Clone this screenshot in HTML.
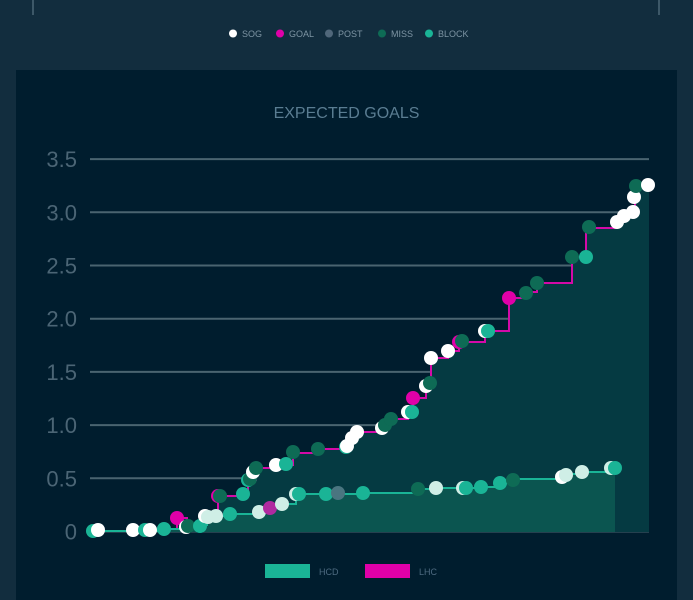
<!DOCTYPE html>
<html><head><meta charset="utf-8"><style>
html,body{margin:0;padding:0;background:#122d3e;width:693px;height:600px;overflow:hidden;font-family:"Liberation Sans",sans-serif}
</style></head><body>
<svg id="s" width="693" height="600" xmlns="http://www.w3.org/2000/svg" style="position:absolute;left:0;top:0">
<rect width="693" height="600" fill="#122d3e"/>
<line x1="33" y1="0" x2="33" y2="15" stroke="#3d5868" stroke-width="2"/>
<line x1="659" y1="0" x2="659" y2="15" stroke="#3d5868" stroke-width="2"/>
<g font-size="9" fill="#7d94a3">
<circle cx="233" cy="33.5" r="4" fill="#ffffff"/><text x="242" y="37">SOG</text>
<circle cx="280" cy="33.5" r="4" fill="#e000a8"/><text x="289" y="37">GOAL</text>
<circle cx="329" cy="33.5" r="4" fill="#50677a"/><text x="338" y="37">POST</text>
<circle cx="382" cy="33.5" r="4" fill="#0e6b55"/><text x="391" y="37">MISS</text>
<circle cx="429" cy="33.5" r="4" fill="#1ab496"/><text x="438" y="37">BLOCK</text>
</g>
<rect x="16" y="70" width="661" height="530" fill="#001d2e"/>
<text x="346.5" y="118" font-size="16" fill="#5a7d92" text-anchor="middle">EXPECTED GOALS</text>
<g id="grid"></g>
<g id="plot"></g>
<rect x="265" y="564" width="45" height="14" fill="#1ab496"/>
<text x="319" y="575" font-size="9" fill="#4d6a80">HCD</text>
<rect x="365" y="564" width="45" height="14" fill="#e000a8"/>
<text x="419" y="575" font-size="9" fill="#4d6a80">LHC</text>
</svg>
<script>
var NS="http://www.w3.org/2000/svg";
function el(p,t,a){var e=document.createElementNS(NS,t);for(var k in a)e.setAttribute(k,a[k]);p.appendChild(e);return e;}
var g=document.getElementById("grid"),P=document.getElementById("plot");
var labs=["0","0.5","1.0","1.5","2.0","2.5","3.0","3.5"];
for(var i=0;i<8;i++){var y=531.5-i*53.2;
 el(g,"line",{x1:90,x2:649,y1:y,y2:y,stroke:"#4a6470","stroke-width":2});
 var t=el(g,"text",{x:77,y:y+8,"font-size":22,fill:"#4b6575","text-anchor":"end"});t.textContent=labs[i];}
var L=[[90,531],[133,531],[165,529],[177,518],[187,527],[205,516],[213,516],[218,496],[236,496],[244,494],[248,480],[256,468],[276,465],[293,453],[318,449],[346,446],[352,438],[357,432],[382,428],[387,424],[391,419],[408,412],[413,398],[426,385],[431,358],[448,351],[459,342],[485,331],[509,298],[526,292],[537,283],[572,257],[586,228],[617,222],[624,216],[633,212],[635,197],[637,186],[649,185]];
var H=[[90,531],[160,529],[190,527],[200,525],[207,520],[220,516],[230,514],[259,512],[270,508],[282,504],[296,494],[326,494],[362,493],[418,489],[436,488],[481,487],[500,483],[514,479],[562,477],[567,474],[582,472],[612,468],[615,468]];
function step(a){var d="M"+a[0][0]+" "+a[0][1];for(var i=1;i<a.length;i++){d+=" H"+a[i][0]+" V"+a[i][1];}return d;}
var dl=step(L),dh=step(H);
el(P,"path",{d:dl+" V532 H90 Z",fill:"#053a42"});
el(P,"path",{d:dh+" V532 H90 Z",fill:"#0b5550"});
el(P,"path",{d:dl,fill:"none",stroke:"#d40aa8","stroke-width":2});
el(P,"path",{d:dh,fill:"none",stroke:"#1ab496","stroke-width":2});
var W="#ffffff",G="#e000a8",PO="#4a7580",M="#0e6b55",B="#1ab496",LB="#cfeee6",PU="#b02aa0";
var dots=[
[93,531,B],[98,530,W],[133,530,W],[145,530,B],[150,530,W],[164,529,B],[177,518,G],[186,527,W],[188,526,M],[200,526,B],[205,516,W],[208,517,LB],[218,496,G],[220,496,M],[243,494,B],[248,480,B],[250,479,M],[253,472,W],[256,468,M],[276,465,W],[286,464,B],[293,452,M],[318,449,M],[346,447,B],[347,446,W],[352,438,W],[357,432,W],[382,428,W],[385,425,M],[391,419,M],[408,412,W],[412,412,B],[413,398,G],[426,386,W],[430,383,M],[431,358,W],[448,351,W],[459,342,G],[462,341,M],[485,331,W],[488,331,B],[509,298,G],[526,293,M],[537,283,M],[572,257,M],[586,257,B],[589,227,M],[617,222,W],[624,216,W],[633,212,W],[634,197,W],[636,186,M],[648,185,W],
[216,516,LB],[230,514,B],[259,512,LB],[270,508,PU],[282,504,LB],[296,494,LB],[299,494,B],[326,494,B],[338,493,PO],[363,493,B],[418,489,M],[436,488,LB],[463,488,LB],[466,488,B],[481,487,B],[500,483,B],[513,480,M],[562,477,W],[566,475,LB],[582,472,LB],[611,468,LB],[615,468,B]];
dots.forEach(function(d){el(P,"circle",{cx:d[0],cy:d[1],r:7,fill:d[2]});});
</script>
</body></html>
